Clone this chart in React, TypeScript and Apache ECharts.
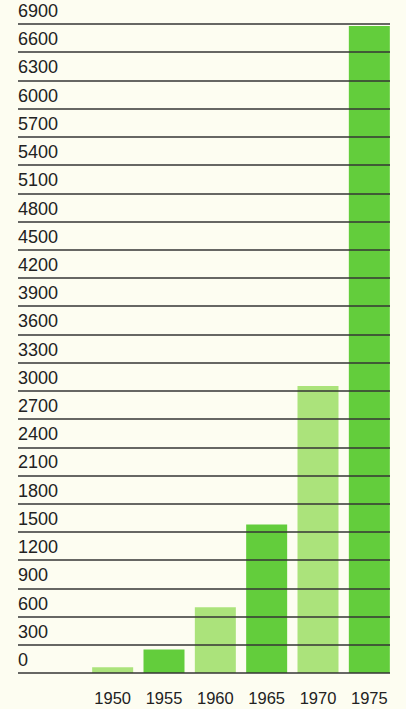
import React, { useEffect, useRef } from "react";
import * as echarts from "echarts";

const categories = ["1950", "1955", "1960", "1965", "1970", "1975"];
const values = [60, 250, 700, 1580, 3050, 6880];
const yMin = 0;
const yMax = 6900;
const yStep = 300;

const lightGreen = "#abe37b";
const darkGreen = "#63cd3c";

export default function App() {
  const ref = useRef<HTMLDivElement>(null);
  useEffect(() => {
    if (!ref.current) return;
    const chart = echarts.init(ref.current, null, { renderer: "svg" });
    chart.setOption({
      animation: false,
      backgroundColor: "#fdfdf1",
      textStyle: { fontFamily: "Liberation Sans, Arial, sans-serif" },
      grid: [
        { left: 18, right: 16, top: 24, bottom: 36 },
        { left: 87, right: 11, top: 24, bottom: 36 },
      ],
      xAxis: [
        { gridIndex: 0, type: "value", show: false, min: 0, max: 1 },
        {
          gridIndex: 1,
          type: "category",
          data: categories,
          axisLine: { show: false },
          axisTick: { show: false },
          axisLabel: { fontSize: 16.5, color: "#222", margin: 16 },
        },
      ],
      yAxis: [
        {
          gridIndex: 0,
          type: "value",
          min: yMin,
          max: yMax,
          interval: yStep,
          z: 5,
          axisLine: { show: false },
          axisTick: { show: false },
          splitLine: { show: true, lineStyle: { color: "#353535", width: 1.5 } },
          axisLabel: {
            inside: true,
            margin: 0,
            verticalAlign: "bottom",
            padding: [0, 0, 4, 0],
            fontSize: 18,
            color: "#222",
            formatter: (v: number) => String(v),
          },
        },
        { gridIndex: 1, type: "value", min: yMin, max: yMax, show: false },
      ],
      series: [
        {
          type: "bar",
          xAxisIndex: 1,
          yAxisIndex: 1,
          barWidth: 41,
          data: values.map((v, i) => ({
            value: v,
            itemStyle: { color: i % 2 === 0 ? lightGreen : darkGreen },
          })),
        },
      ],
    });
    return () => chart.dispose();
  }, []);
  return (
    <div
      ref={ref}
      style={{ position: "absolute", left: 0, top: 0, width: 406, height: 709 }}
    />
  );
}
